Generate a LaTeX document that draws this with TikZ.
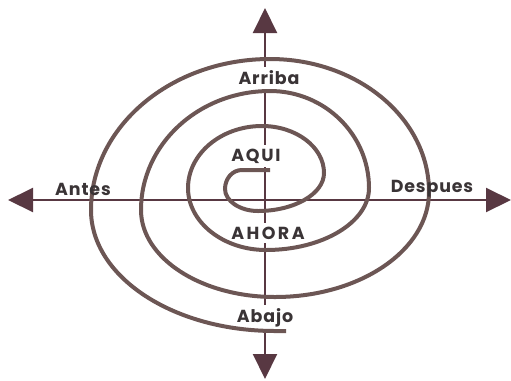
\documentclass[tikz,border=0pt]{standalone}
\usepackage{fontspec}
\setmainfont{Poppins}
\usetikzlibrary{arrows.meta}
\definecolor{axiscol}{RGB}{88,56,66}
\definecolor{spiralcol}{RGB}{108,86,84}
\definecolor{textcol}{RGB}{58,52,54}
\tikzset{
  axisline/.style={draw=axiscol, line width=2bp, {Triangle[length=25bp,width=24bp]}-{Triangle[length=25bp,width=24bp]}},
  spiralline/.style={draw=spiralcol, line width=4bp, line cap=butt},
  lab/.style={text=textcol, font=\bfseries\fontsize{17.5}{17.5}\selectfont\addfontfeatures{LetterSpace=5}, inner sep=0pt},
  caplab/.style={lab, font=\bfseries\fontsize{17.5}{17.5}\selectfont\addfontfeatures{LetterSpace=10}},
  widecaplab/.style={lab, font=\bfseries\fontsize{17.5}{17.5}\selectfont\addfontfeatures{LetterSpace=14}},
  vlab/.style={fill=white, inner xsep=2bp, inner ysep=4bp},
}
\begin{document}
\begin{tikzpicture}[x=1bp,y=-1bp]
\useasboundingbox (0,0) rectangle (511,380);
% axis end points
\coordinate (top) at (265,8);
\coordinate (bot) at (265,379);
\coordinate (lft) at (8,200);
\coordinate (rgt) at (511,200);
\draw[axisline] (bot) -- (top);
\draw[axisline] (lft) -- (rgt);
% labels on the vertical axis
\node[lab,vlab] (arriba) at (269,78) {Arriba};
\node[caplab,vlab] (aqui) at (256,156) {AQUI};
\node[widecaplab,vlab] (ahora) at (268,233) {AHORA};
\node[lab,vlab] (abajo) at (265,318) {Abajo};
% spiral
\draw[spiralline]
  (270,170) -- (242,170)
  .. controls (232,170) and (225,179) .. (225,189)
  .. controls (225,201) and (240,211) .. (258,211)
  .. controls (294,211) and (324,194) .. (324,173)
  .. controls (324,147) and (296,126) .. (262,126)
  .. controls (221,126) and (188,154) .. (188,188)
  .. controls (188,222) and (223,250) .. (266,250)
  .. controls (323,250) and (369,222) .. (369,188)
  .. controls (369,134.5) and (324.6,91) .. (270,91)
  .. controls (199,91) and (141,144) .. (141,210)
  .. controls (141,258) and (201,297) .. (275,297)
  .. controls (360,297) and (429,250) .. (429,192)
  .. controls (429,118.6) and (357.8,59) .. (270,59)
  .. controls (171.2,59) and (91,126.6) .. (91,210)
  .. controls (91,277) and (173.4,331) .. (275,331)
  -- (286,331);
% side labels
\node[lab] (antes) at (83,189) {Antes};
\node[lab] (despues) at (432,189) {Despues};
\end{tikzpicture}
\end{document}
